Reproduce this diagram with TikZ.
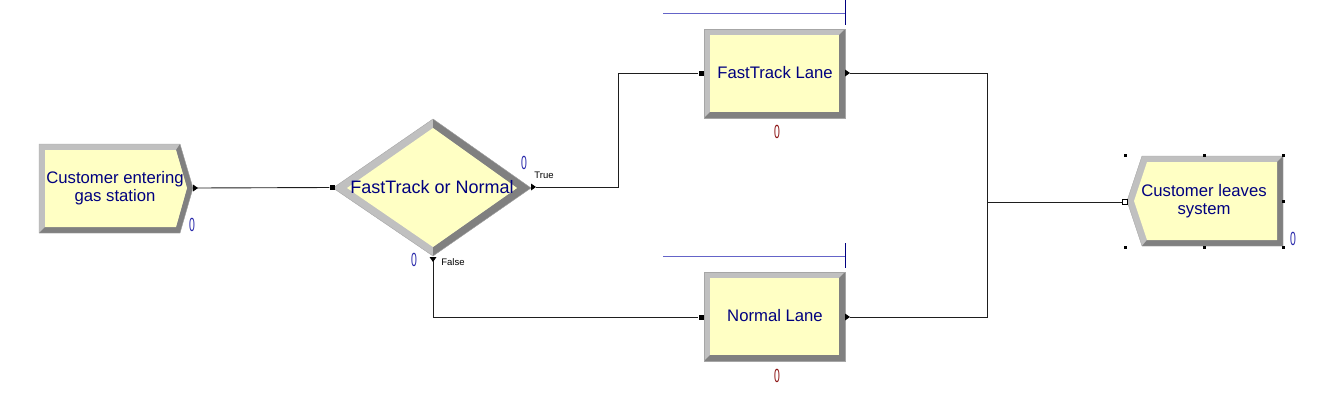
\documentclass[tikz,border=0pt]{standalone}
\usepackage{fontspec}
\usepackage{graphicx}
\setmainfont{Liberation Sans}
\definecolor{bevlight}{RGB}{192,192,192}
\definecolor{bevdark}{RGB}{128,128,128}
\definecolor{modfill}{RGB}{255,255,196}
\definecolor{modtext}{RGB}{0,0,128}
\definecolor{zeroblue}{RGB}{40,40,170}
\definecolor{zerored}{RGB}{140,20,20}
\definecolor{resline}{RGB}{100,100,200}
\definecolor{connline}{RGB}{30,30,30}
\tikzset{
  modlabel/.style={text=modtext, align=center, inner sep=0pt, font=\fontsize{16.7}{17.5}\selectfont},
  declabel/.style={text=modtext, align=center, inner sep=0pt, font=\fontsize{18}{18}\selectfont},
  zerolabel/.style={inner sep=0pt, font=\fontsize{19}{19}\selectfont},
  smalllabel/.style={inner sep=0pt, text=black, font=\fontsize{9.5}{10}\selectfont},
  conn/.style={draw=connline, line width=0.9pt},
  entrysq/.style={fill=black, minimum size=5pt, inner sep=0pt, draw=none, rectangle},
  outline/.style={draw=bevdark!70, line width=0.4pt},
  handle/.style={fill=black, minimum size=3pt, inner sep=0pt, rectangle}
}
\newcommand{\zeroglyph}{\scalebox{0.55}[1]{0}}
\begin{document}
\begin{tikzpicture}[x=1pt,y=-1pt]
\useasboundingbox (0,0) rectangle (1337,407);

% ---------------- Create module ----------------
\fill[bevlight] (39,144) -- (180,144) -- (193,188) -- (180,233) -- (39,233) -- cycle;
\fill[bevdark] (180,144) -- (193,188) -- (180,233) -- (39,233) -- (45,227) -- (176,227) -- (187,188) -- (176,150) -- cycle;
\fill[modfill] (45,150) -- (176,150) -- (187,188) -- (176,227) -- (45,227) -- cycle;
\draw[outline] (39,144) -- (180,144) -- (193,188) -- (180,233) -- (39,233) -- cycle;
\node[modlabel] (create) at (115,188) {Customer entering\\gas station};
\node[zerolabel, text=zeroblue] (createcnt) at (192,225) {\zeroglyph};
\coordinate (createout) at (197,188);
\fill[black] (193,184.5) -- (198,188) -- (193,191.5) -- cycle;

% ---------------- Decide module ----------------
\fill[bevlight] (333,188) -- (433,119) -- (531,188) -- (433,256) -- cycle;
\fill[bevdark] (433,119) -- (531,188) -- (433,256) -- (433,247) -- (517,188) -- (433,128) -- cycle;
\fill[modfill] (347,188) -- (433,128) -- (517,188) -- (433,247) -- cycle;
\draw[outline] (333,188) -- (433,119) -- (531,188) -- (433,256) -- cycle;
\node[declabel] (decide) at (432,187) {FastTrack or Normal};
\node[zerolabel, text=zeroblue] (decidecntT) at (524,163) {\zeroglyph};
\node[zerolabel, text=zeroblue] (decidecntF) at (414,260) {\zeroglyph};
\node[smalllabel] (truelbl) at (544,175.5) {True};
\node[smalllabel] (falselbl) at (453,262) {False};
\node[entrysq] (decidein) at (332,187.5) {};
\coordinate (decidetrue) at (536,187);
\coordinate (decidefalse) at (433,261);
\fill[black] (531,183.5) -- (536,187) -- (531,190.5) -- cycle;
\fill[black] (429.5,257) -- (436.5,257) -- (433,262) -- cycle;

% ---------------- FastTrack Lane ----------------
\draw[resline, line width=0.8pt] (663,13) -- (845,13);
\draw[modtext, line width=0.8pt] (845,0) -- (845,25);
\fill[bevlight] (704,29) rectangle (845,118);
\fill[bevdark] (845,29) -- (845,118) -- (704,118) -- (710,112) -- (839,112) -- (839,35) -- cycle;
\fill[modfill] (710,35) rectangle (839,112);
\draw[outline] (704,29) rectangle (845,118);
\node[modlabel] (fast) at (775,73) {FastTrack Lane};
\node[zerolabel, text=zerored] (fastcnt) at (777,132) {\zeroglyph};
\node[entrysq] (fastin) at (701,73) {};
\coordinate (fastout) at (850,73);
\fill[black] (845,69.5) -- (850,73) -- (845,76.5) -- cycle;

% ---------------- Normal Lane ----------------
\draw[resline, line width=0.8pt] (663,256) -- (845,256);
\draw[modtext, line width=0.8pt] (845,243) -- (845,268);
\fill[bevlight] (704,272) rectangle (845,361);
\fill[bevdark] (845,272) -- (845,361) -- (704,361) -- (710,355) -- (839,355) -- (839,278) -- cycle;
\fill[modfill] (710,278) rectangle (839,355);
\draw[outline] (704,272) rectangle (845,361);
\node[modlabel] (normal) at (775,316) {Normal Lane};
\node[zerolabel, text=zerored] (normalcnt) at (777,376) {\zeroglyph};
\node[entrysq] (normalin) at (701,317) {};
\coordinate (normalout) at (850,317);
\fill[black] (845,313.5) -- (850,317) -- (845,320.5) -- cycle;

% ---------------- Dispose module ----------------
\fill[bevlight] (1127,201) -- (1142,156) -- (1283,156) -- (1283,246) -- (1142,246) -- cycle;
\fill[bevdark] (1283,156) -- (1283,246) -- (1142,246) -- (1147,240) -- (1277,240) -- (1277,162) -- cycle;
\fill[modfill] (1134,201) -- (1147,162) -- (1277,162) -- (1277,240) -- (1147,240) -- cycle;
\draw[outline] (1127,201) -- (1142,156) -- (1283,156) -- (1283,246) -- (1142,246) -- cycle;
\node[modlabel] (dispose) at (1204,201) {Customer leaves\\system};
\node[zerolabel, text=zeroblue] (disposecnt) at (1293,239) {\zeroglyph};
\node[draw=black, fill=white, line width=0.6pt, minimum size=4.5pt, inner sep=0pt, rectangle] (disposein) at (1125,202) {};
\foreach \hx/\hy [count=\i] in {1125/155,1204/155,1283/155,1283/201,1283/247,1204/247,1125/247}
  \node[handle] (h\i) at (\hx,\hy) {};

% ---------------- Connectors ----------------
\coordinate (mergept) at (987,202);
\draw[conn] (createout) -- (decidein.west);
\draw[conn] (decidetrue) -- (618,187) |- (fastin.west);
\draw[conn] (decidefalse) |- (normalin.west);
\draw[conn] (fastout) -| (mergept);
\draw[conn] (normalout) -| (mergept);
\draw[conn] (mergept) -- (disposein.west);
\end{tikzpicture}
\end{document}
